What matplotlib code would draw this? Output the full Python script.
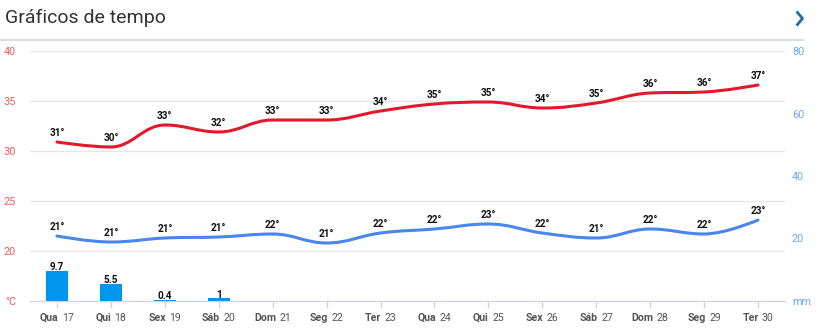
import matplotlib
matplotlib.use("Agg")
import matplotlib.pyplot as plt
from matplotlib.path import Path
from matplotlib.patches import PathPatch
from matplotlib.offsetbox import TextArea, HPacker, AnnotationBbox
from matplotlib.lines import Line2D

plt.rcParams['font.family'] = ['Roboto', 'DejaVu Sans']

days = ["Qua", "Qui", "Sex", "Sáb", "Dom", "Seg", "Ter", "Qua", "Qui", "Sex", "Sáb", "Dom", "Seg", "Ter"]
dates = ["17", "18", "19", "20", "21", "22", "23", "24", "25", "26", "27", "28", "29", "30"]
tmax = [30.9, 30.4, 32.6, 31.9, 33.1, 33.1, 34.0, 34.7, 34.9, 34.3, 34.8, 35.8, 35.9, 36.6]
tmax_labels = [31, 30, 33, 32, 33, 33, 34, 35, 35, 34, 35, 36, 36, 37]
tmin = [21.5, 20.9, 21.3, 21.4, 21.7, 20.8, 21.8, 22.2, 22.7, 21.8, 21.3, 22.2, 21.7, 23.1]
tmin_labels = [21, 21, 21, 21, 22, 21, 22, 22, 23, 22, 21, 22, 22, 23]
precip = [9.7, 5.5, 0.4, 1, 0, 0, 0, 0, 0, 0, 0, 0, 0, 0]
precip_labels = ["9.7", "5.5", "0.4", "1", "", "", "", "", "", "", "", "", "", ""]
left_ticks = [15, 20, 25, 30, 35, 40]
right_ticks = [0, 20, 40, 60, 80]

W, H = 821, 331
fig = plt.figure(figsize=(W / 100, H / 100), dpi=100)
fig.patch.set_facecolor("white")

x0, x1, yb, yt = 30, 785, 301, 51
ax = fig.add_axes([x0 / W, (H - yb) / H, (x1 - x0) / W, (yb - yt) / H])
ax2 = ax.twinx()
n = len(days)
xs = list(range(n))
ax.set_xlim(-0.5, n - 0.5)
ax.set_ylim(15, 40)
ax2.set_ylim(0, 80)

# spline like Highcharts
def spline_path(xv, yv):
    sm, den = 1.5, 2.5
    m = len(xv)
    lc = [None] * m
    rc = [None] * m
    for i in range(1, m - 1):
        px, py = xv[i], yv[i]
        lx, ly = xv[i - 1], yv[i - 1]
        nx, ny = xv[i + 1], yv[i + 1]
        lcx = (sm * px + lx) / den
        lcy = (sm * py + ly) / den
        rcx = (sm * px + nx) / den
        rcy = (sm * py + ny) / den
        corr = ((rcy - lcy) * (rcx - px)) / (rcx - lcx) + py - rcy
        lcy += corr
        rcy += corr
        if lcy > ly and lcy > py:
            lcy = max(ly, py); rcy = 2 * py - lcy
        elif lcy < ly and lcy < py:
            lcy = min(ly, py); rcy = 2 * py - lcy
        if rcy > ny and rcy > py:
            rcy = max(ny, py); lcy = 2 * py - rcy
        elif rcy < ny and rcy < py:
            rcy = min(ny, py); lcy = 2 * py - rcy
        lc[i] = (lcx, lcy)
        rc[i] = (rcx, rcy)
    verts = [(xv[0], yv[0])]
    codes = [Path.MOVETO]
    for i in range(1, m):
        c1 = rc[i - 1] if rc[i - 1] is not None else (xv[i - 1], yv[i - 1])
        c2 = lc[i] if lc[i] is not None else (xv[i], yv[i])
        verts += [c1, c2, (xv[i], yv[i])]
        codes += [Path.CURVE4] * 3
    return Path(verts, codes)

# grid
for t in left_ticks[1:]:
    ax.axhline(t, color="#e6e6e6", lw=1, zorder=0)

# bars
ax2.bar(xs, precip, width=0.41, color="#0095ef", zorder=2)
for i, (v, lab) in enumerate(zip(precip, precip_labels)):
    if lab:
        ax2.annotate(lab, (i, v), xytext=(0, -1.2), textcoords="offset points",
                     ha="center", va="bottom", fontsize=7.2, fontweight="bold", color="#111", zorder=6)

red = "#e3192b"
blue = "#4a86ef"
ax.add_patch(PathPatch(spline_path(xs, tmax), fill=False, edgecolor=red, lw=2.2, zorder=3, capstyle="round"))
ax.add_patch(PathPatch(spline_path(xs, tmin), fill=False, edgecolor=blue, lw=2.2, zorder=3, capstyle="round"))
for i in xs:
    ax.annotate(f"{tmax_labels[i]}°", (i, tmax[i]), xytext=(0, 2.8), textcoords="offset points",
                ha="center", va="bottom", fontsize=7.2, fontweight="bold", color="#111", zorder=5)
    ax.annotate(f"{tmin_labels[i]}°", (i, tmin[i]), xytext=(0, 2.8), textcoords="offset points",
                ha="center", va="bottom", fontsize=7.2, fontweight="bold", color="#111", zorder=5)

# axes styling
for a in (ax, ax2):
    for s in a.spines.values():
        s.set_visible(False)
ax.spines["bottom"].set_visible(True)
ax.spines["bottom"].set_color("#ccd6eb")
ax.spines["bottom"].set_linewidth(1)
ax.set_xticks(xs)
ax.set_xticklabels([""] * n)
ax.tick_params(axis="x", length=5, color="#ccd6eb", width=1)

ax.set_yticks(left_ticks)
ax.set_yticklabels(["°C"] + [str(t) for t in left_ticks[1:]])
ax.tick_params(axis="y", length=0, pad=10, labelsize=7.8, labelcolor="#f25b5b")
ax2.set_yticks(right_ticks)
ax2.set_yticklabels(["mm"] + [str(t) for t in right_ticks[1:]])
ax2.tick_params(axis="y", length=0, pad=5, labelsize=7.8, labelcolor="#6ea7ee")

# x labels with mixed weight
for i in xs:
    t1 = TextArea(days[i], textprops=dict(fontsize=7.6, fontweight="bold", color="#555"))
    t2 = TextArea(dates[i], textprops=dict(fontsize=7.6, color="#555"))
    box = HPacker(children=[t1, t2], pad=0, sep=2.5, align="baseline")
    ab = AnnotationBbox(box, (i, 0), xycoords=("data", "axes fraction"),
                        xybox=(0, -8.5), boxcoords="offset points",
                        box_alignment=(0.5, 1), frameon=False, annotation_clip=False)
    ax.add_artist(ab)

# header
fig.text(5 / W, 1 - 18 / H, "Gráficos de tempo", fontsize=14, color="#333",
         ha="left", va="center")
fig.add_artist(Line2D([0, 803 / W], [1 - 40 / H, 1 - 40 / H], color="#dddddd", lw=1.5,
                      transform=fig.transFigure))
fig.add_artist(Line2D([797.5 / W, 802.5 / W, 797.5 / W], [1 - 12.5 / H, 1 - 18.5 / H, 1 - 24.5 / H],
                      color="#1c6ea4", lw=2, transform=fig.transFigure))

fig.savefig("out.png", dpi=100, facecolor="white")
